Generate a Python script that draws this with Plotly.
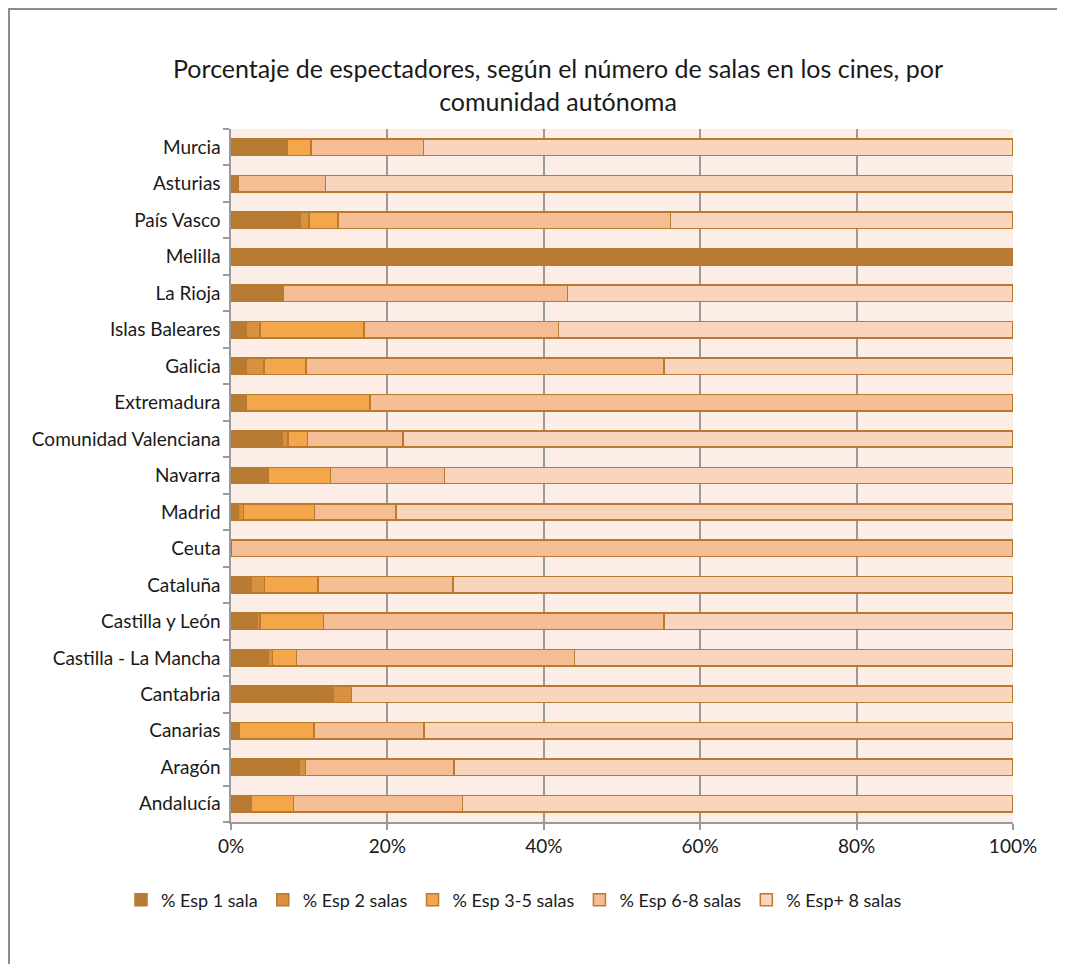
import plotly.graph_objects as go

categories = ["Andalucía", "Aragón", "Canarias", "Cantabria", "Castilla - La Mancha",
              "Castilla y León", "Cataluña", "Ceuta", "Madrid", "Navarra",
              "Comunidad Valenciana", "Extremadura", "Galicia", "Islas Baleares",
              "La Rioja", "Melilla", "País Vasco", "Asturias", "Murcia"]

esp_1_sala = [2.6, 8.7, 1.0, 13.1, 4.7, 3.4, 2.6, 0, 0.9, 4.8, 6.5, 2.0, 1.9, 1.9, 6.7, 100, 8.8, 0.9, 7.2]
esp_2_salas = [0, 0.8, 0, 2.3, 0.6, 0.3, 1.7, 0, 0.7, 0, 0.8, 0, 2.3, 1.8, 0, 0, 1.2, 0, 0]
esp_3_5_salas = [5.4, 0, 9.6, 0, 3.1, 8.1, 6.8, 0, 9.1, 7.9, 2.5, 15.8, 5.4, 13.3, 0, 0, 3.7, 0, 3.0]
esp_6_8_salas = [21.6, 19.0, 14.1, 0, 35.5, 43.6, 17.3, 100, 10.4, 14.6, 12.2, 82.2, 45.8, 24.9, 36.3, 0, 42.5, 11.2, 14.4]
esp_mas_8_salas = [70.4, 71.5, 75.3, 84.6, 56.1, 44.6, 71.6, 0, 78.9, 72.7, 78.0, 0, 44.6, 58.1, 57.0, 0, 43.8, 87.9, 75.4]

series_names = ["% Esp 1 sala", "% Esp 2 salas", "% Esp 3-5 salas", "% Esp 6-8 salas", "% Esp+ 8 salas"]
series_values = [esp_1_sala, esp_2_salas, esp_3_5_salas, esp_6_8_salas, esp_mas_8_salas]
colors = ["#B87B34", "#D8923F", "#F3A64A", "#F5BD93", "#F9D5BD"]

x_ticks = [0, 20, 40, 60, 80, 100]
x_tick_labels = ["0%", "20%", "40%", "60%", "80%", "100%"]

FONT = "Lato, 'Open Sans', sans-serif"

fig = go.Figure()
for name, vals, col in zip(series_names, series_values, colors):
    fig.add_trace(go.Bar(
        y=categories, x=[v if v > 0 else None for v in vals], name=name, orientation="h",
        marker=dict(color=col, line=dict(color="#B97A30", width=1.5)),
    ))

# page has an 8px body margin; figure coords = page coords - 8
L, R, T, B = 223, 60, 121, 150
W, H = 1065, 964
pw, ph = W - L - R, H - T - B

fig.update_layout(
    width=W, height=H,
    barmode="stack",
    bargap=0.55,
    paper_bgcolor="white",
    plot_bgcolor="#FCEEE6",
    margin=dict(l=L, r=R, t=T, b=B),
    font=dict(family=FONT, size=19, color="#1A1A1A"),
    title=dict(
        text="Porcentaje de espectadores, según el número de salas en los cines, por<br>comunidad autónoma",
        x=550 / W, xanchor="center", xref="container",
        y=1 - 70 / H, yanchor="middle", yref="container",
        font=dict(family=FONT, size=25, color="#1A1A1A"),
    ),
    showlegend=True,
    legend=dict(
        orientation="h",
        xref="container", yref="container",
        x=506 / W, xanchor="center",
        y=1 - 892 / H, yanchor="middle",
        font=dict(family=FONT, size=18, color="#1A1A1A"),
        traceorder="normal",
        bgcolor="rgba(0,0,0,0)",
        itemwidth=30,
    ),
    xaxis=dict(
        range=[0, 100],
        tickvals=x_ticks, ticktext=x_tick_labels,
        showgrid=True, gridcolor="#9A9A9A", gridwidth=1.5,
        showline=True, linecolor="#9A9A9A", linewidth=1.5,
        ticks="outside", ticklen=6, tickcolor="#9A9A9A", tickwidth=1.5,
        zeroline=False,
        fixedrange=True,
    ),
    yaxis=dict(
        categoryorder="array", categoryarray=categories,
        showline=True, linecolor="#9A9A9A", linewidth=1.5,
        ticks="outside", ticklen=6, tickcolor="#9A9A9A", tickwidth=1.5,
        tickson="boundaries",
        showgrid=False,
        ticksuffix=" ",
        fixedrange=True,
    ),
    shapes=[dict(
        type="rect", xref="paper", yref="paper",
        x0=(1 - L) / pw, x1=(W + 20 - L) / pw,
        y0=(H - B - (H + 20)) / ph, y1=(H - B - 1) / ph,
        line=dict(color="#8C8C8C", width=2), fillcolor="rgba(0,0,0,0)",
        layer="below",
    )],
)

fig.write_html("out.html")
